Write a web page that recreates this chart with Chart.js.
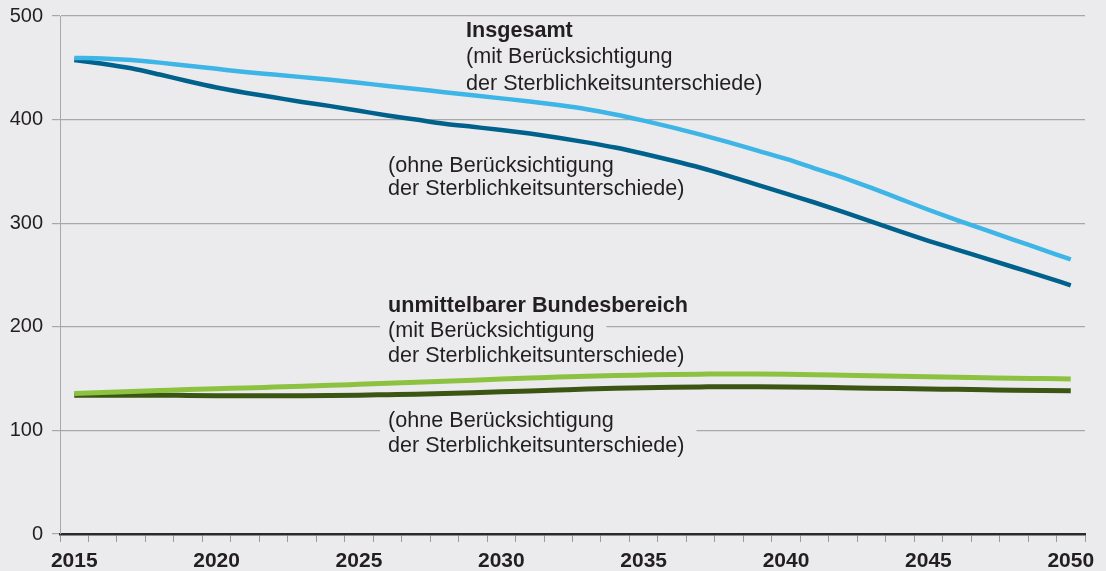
<!DOCTYPE html>
<html lang="de">
<head>
<meta charset="utf-8">
<title>Versorgungsempfänger</title>
<script src="https://cdn.jsdelivr.net/npm/chart.js@4/dist/chart.umd.min.js"></script>
<style>
  html, body { margin: 0; padding: 0; background: #ebebed; }
  #wrap { width: 1106px; height: 571px; position: relative; }
</style>
</head>
<body>
<div id="wrap"><canvas id="chart" width="1106" height="571"></canvas></div>
<script>
'use strict';

const years = [];
for (let y = 2015; y <= 2050; y++) years.push(String(y));

const yTicks = [0, 100, 200, 300, 400, 500];

// Insgesamt, mit Berücksichtigung der Sterblichkeitsunterschiede
const totalWith = [
  459.5, 459, 457.5, 455, 452, 449, 446, 443.5, 441, 438.5,
  435.5, 432.5, 429.5, 426.5, 423.5, 420.5, 417.5, 414, 410, 405,
  399, 392.5, 385.5, 378, 370, 362, 353, 344, 334, 323.5,
  313, 303, 293.5, 284, 274.5, 265
];
// Insgesamt, ohne Berücksichtigung
const totalWithout = [
  457.5, 454, 449.5, 443.5, 437, 431, 426, 421.5, 417, 413,
  408.5, 404, 400, 396, 393, 390, 386.5, 382.5, 378, 373,
  367, 360.5, 353.5, 345.5, 337, 328.5, 320, 311, 301.5, 292,
  283, 274.5, 266, 257.5, 249, 240
];
// unmittelbarer Bundesbereich, mit Berücksichtigung
const fedWith = [
  135.5, 136.5, 137.5, 138.5, 139.5, 140.3, 141, 141.8, 142.6, 143.5,
  144.5, 145.5, 146.5, 147.5, 148.5, 149.5, 150.5, 151.5, 152.3, 153,
  153.5, 154, 154.3, 154.5, 154.4, 154.2, 153.8, 153.3, 152.8, 152.3,
  151.8, 151.3, 150.8, 150.3, 150, 149.6
];
// unmittelbarer Bundesbereich, ohne Berücksichtigung
const fedWithout = [
  134, 134, 134, 134, 133.7, 133.5, 133.4, 133.4, 133.5, 133.7,
  134, 134.5, 135, 135.7, 136.4, 137.2, 138.1, 139, 139.9, 140.6,
  141.2, 141.7, 142, 142.2, 142.1, 141.9, 141.6, 141.2, 140.8, 140.4,
  140, 139.6, 139.2, 138.8, 138.5, 138.3
];

const notes = [
  { x: 466, lines: [
      { t: 'Insgesamt', y: 37, bold: true },
      { t: '(mit Berücksichtigung', y: 63 },
      { t: 'der Sterblichkeitsunterschiede)', y: 90 } ] },
  { x: 388, lines: [
      { t: '(ohne Berücksichtigung', y: 172 },
      { t: 'der Sterblichkeitsunterschiede)', y: 195 } ] },
  { x: 388, lines: [
      { t: 'unmittelbarer Bundesbereich', y: 312, bold: true },
      { t: '(mit Berücksichtigung', y: 337 },
      { t: 'der Sterblichkeitsunterschiede)', y: 362 } ] },
  { x: 388, lines: [
      { t: '(ohne Berücksichtigung', y: 427 },
      { t: 'der Sterblichkeitsunterschiede)', y: 452 } ] }
];

const BG = '#ebebed';
const FONT = '"Liberation Sans", Arial, Helvetica, sans-serif';

const fontFor = l => (l.bold ? 'bold ' : '') + '21.6px ' + FONT;

// text boxes hide the grid lines behind them, lines are drawn on top
const notesPlugin = {
  id: 'notes',
  beforeDatasetsDraw(chart) {
    const ctx = chart.ctx;
    ctx.save();
    ctx.textBaseline = 'alphabetic';
    ctx.textAlign = 'left';
    ctx.fillStyle = BG;
    notes.forEach(n => n.lines.forEach(l => {
      if (l.y < 300) return;
      ctx.font = fontFor(l);
      const w = ctx.measureText(l.t).width;
      ctx.fillRect(n.x - 8, l.y - 23, w + 20, 28);
    }));
    ctx.fillStyle = '#231f20';
    notes.forEach(n => n.lines.forEach(l => {
      ctx.font = fontFor(l);
      ctx.fillText(l.t, n.x, l.y);
    }));
    ctx.restore();
  }
};

function line(data, color, width) {
  return {
    data,
    borderColor: color,
    borderWidth: width,
    pointRadius: 0,
    cubicInterpolationMode: 'monotone',
    fill: false
  };
}

new Chart(document.getElementById('chart'), {
  type: 'line',
  data: {
    labels: years,
    datasets: [
      line(totalWith, '#3db5e6', 4.5),
      line(totalWithout, '#00628c', 4.5),
      line(fedWith, '#8dc240', 5),
      line(fedWithout, '#3b5512', 5)
    ]
  },
  options: {
    responsive: false,
    animation: false,
    layout: { padding: { top: 16, right: 21, left: 0, bottom: 0 } },
    plugins: { legend: { display: false }, tooltip: { enabled: false } },
    scales: {
      x: {
        type: 'category',
        offset: true,
        afterFit: s => { s.height = 37; },
        grid: { offset: true, drawOnChartArea: false, tickLength: 8, color: '#9a9a9a', lineWidth: 1 },
        border: { color: '#2a2a2a', width: 2.5 },
        ticks: {
          autoSkip: false, maxRotation: 0, padding: 7, color: '#231f20',
          font: { family: FONT, size: 21, weight: 'bold' },
          callback: (v, i) => (Number(years[i]) % 5 === 0 ? years[i] : '')
        }
      },
      y: {
        min: 0, max: 500,
        afterFit: s => { s.width = 60; s.paddingTop = 0; s.paddingBottom = 0; },
        afterBuildTicks: s => { s.ticks = yTicks.map(v => ({ value: v })); },
        grid: { color: '#a8a8a8', lineWidth: 1.2, tickLength: 8 },
        border: { color: '#a8a8a8', width: 1 },
        ticks: { padding: 9, color: '#231f20', font: { family: FONT, size: 20 } }
      }
    }
  },
  plugins: [notesPlugin]
});
</script>
</body>
</html>
